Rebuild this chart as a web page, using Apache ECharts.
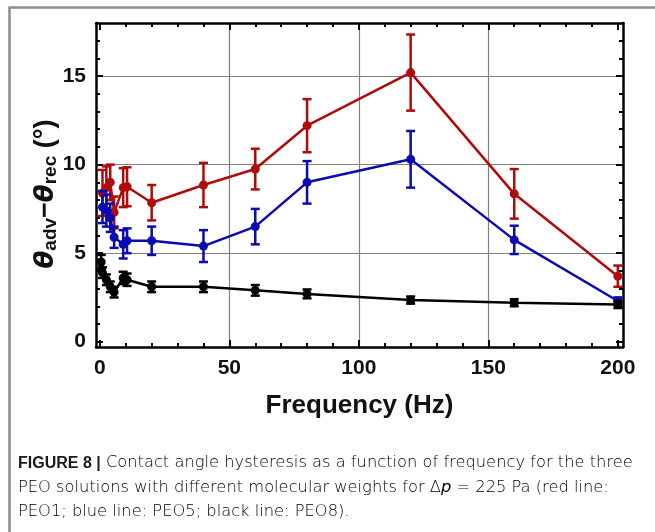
<!DOCTYPE html>
<html>
<head>
<meta charset="utf-8">
<script src="https://cdn.jsdelivr.net/npm/echarts@6/dist/echarts.min.js"></script>
<style>
html,body{margin:0;padding:0;background:#fff;}
#chart{width:655px;height:532px;}
</style>
</head>
<body>
<div id="chart"></div>
<script>
// ---- data ----
const freqLow = [1, 2.5, 4, 5.5, 9, 10.5, 20, 40, 60, 80, 120, 160, 200];
const freqBlack = [0.5, 1, 2.5, 4, 5.5, 9, 10.5, 20, 40, 60, 80, 120, 160, 200];

const peo1Values = [8.4, 8.7, 9.0, 7.3, 8.7, 8.75, 7.85, 8.85, 9.75, 12.2, 15.2, 8.35, 3.7];
const peo1Errors = [1.3, 1.2, 1.0, 0.9, 1.1, 1.1, 1.0, 1.25, 1.15, 1.5, 2.15, 1.4, 0.6];

const peo5Values = [7.6, 7.4, 7.0, 5.9, 5.5, 5.7, 5.7, 5.4, 6.5, 9.0, 10.3, 5.75, 2.3];
const peo5Errors = [0.9, 0.9, 0.8, 0.6, 0.8, 0.7, 0.8, 0.9, 1.0, 1.2, 1.6, 0.8, 0.2];

const peo8Values = [4.5, 3.9, 3.5, 3.1, 2.8, 3.6, 3.5, 3.1, 3.1, 2.9, 2.7, 2.35, 2.2, 2.1];
const peo8Errors = [0.4, 0.3, 0.3, 0.3, 0.3, 0.35, 0.35, 0.3, 0.3, 0.3, 0.25, 0.2, 0.2, 0.2];

const xMajorTicks = [0, 50, 100, 150, 200];
const xMinorTicks = [10, 20, 30, 40, 60, 70, 80, 90, 110, 120, 130, 140, 160, 170, 180, 190];
const xGrid = [50, 100, 150];
const yMajorTicks = [0, 5, 10, 15];
const yMinorTicks = [1, 2, 3, 4, 6, 7, 8, 9, 11, 12, 13, 14, 16, 17];
const yGrid = [5, 10, 15];

const RED = '#b00a0a', BLUE = '#0a0ab0', BLACK = '#000000';
const XMIN = -1.5, XMAX = 202, YMIN = -0.3, YMAX = 18;
const FONT = "'Liberation Sans',Arial,sans-serif";

function pairs(xs, ys) { return xs.map((x, i) => [x, ys[i]]); }
function errs(xs, ys, es) { return xs.map((x, i) => [x, ys[i] - es[i], ys[i] + es[i]]); }

function errRender(color) {
  return function (params, api) {
    const x = api.value(0), lo = api.value(1), hi = api.value(2);
    const p1 = api.coord([x, hi]), p2 = api.coord([x, lo]);
    const h = 4.5;
    const st = { stroke: color, lineWidth: 2.5 };
    return {
      type: 'group',
      children: [
        { type: 'line', shape: { x1: p1[0], y1: p1[1], x2: p2[0], y2: p2[1] }, style: st },
        { type: 'line', shape: { x1: p1[0] - h, y1: p1[1], x2: p1[0] + h, y2: p1[1] }, style: st },
        { type: 'line', shape: { x1: p2[0] - h, y1: p2[1], x2: p2[0] + h, y2: p2[1] }, style: st }
      ]
    };
  };
}

const frameLine = { show: true, onZero: false, lineStyle: { color: '#000', width: 2.5 } };
const noLine = { show: false, onZero: false };
function xAx(position, opts) {
  return Object.assign({
    type: 'value', min: XMIN, max: XMAX, position: position,
    axisLine: noLine, axisTick: { show: false }, axisLabel: { show: false },
    splitLine: { show: false }
  }, opts);
}
function yAx(position, opts) {
  return Object.assign({
    type: 'value', min: YMIN, max: YMAX, position: position,
    axisLine: noLine, axisTick: { show: false }, axisLabel: { show: false },
    splitLine: { show: false }
  }, opts);
}
const majT = (vals) => ({ show: true, inside: true, length: 7, customValues: vals, lineStyle: { color: '#000', width: 2 } });
const minT = (vals) => ({ show: true, inside: true, length: 4, customValues: vals, lineStyle: { color: '#000', width: 2 } });

const chart = echarts.init(document.getElementById('chart'));
const option = {
  backgroundColor: '#fff',
  animation: false,
  grid: { left: 96, top: 23, right: 32, bottom: 185, containLabel: false },
  xAxis: [
    xAx('bottom', {
      axisLine: frameLine,
      axisTick: majT(xMajorTicks),
      axisLabel: { show: true, customValues: xMajorTicks, margin: 11, fontSize: 21, fontWeight: 'bold', color: '#111', fontFamily: FONT },
      name: 'Frequency (Hz)', nameLocation: 'middle', nameGap: 46,
      nameTextStyle: { fontSize: 26, fontWeight: 'bold', color: '#111', fontFamily: FONT }
    }),
    xAx('bottom', { axisTick: minT(xMinorTicks) }),
    xAx('top', { axisLine: frameLine, axisTick: majT(xMajorTicks) }),
    xAx('top', { axisTick: minT(xMinorTicks) }),
    xAx('bottom', {
      axisTick: { show: false, customValues: xGrid },
      splitLine: { show: true, lineStyle: { color: '#808080', width: 1.2 } }
    })
  ],
  yAxis: [
    yAx('left', {
      axisLine: frameLine,
      axisTick: majT(yMajorTicks),
      axisLabel: { show: true, customValues: yMajorTicks, margin: 10, fontSize: 21, fontWeight: 'bold', color: '#111', fontFamily: FONT }
    }),
    yAx('left', { axisTick: minT(yMinorTicks) }),
    yAx('right', { axisLine: frameLine, axisTick: majT(yMajorTicks) }),
    yAx('right', { axisTick: minT(yMinorTicks) }),
    yAx('left', {
      axisTick: { show: false, customValues: yGrid },
      splitLine: { show: true, lineStyle: { color: '#808080', width: 1.2 } }
    })
  ],
  series: [
    { type: 'custom', name: 'PEO1 err', renderItem: errRender(RED), data: errs(freqLow, peo1Values, peo1Errors), z: 3, encode: { x: 0, y: [1, 2] } },
    { type: 'line', name: 'PEO1', data: pairs(freqLow, peo1Values), symbol: 'circle', symbolSize: 9, itemStyle: { color: RED }, lineStyle: { color: RED, width: 2.5 }, z: 3 },
    { type: 'custom', name: 'PEO5 err', renderItem: errRender(BLUE), data: errs(freqLow, peo5Values, peo5Errors), z: 4, encode: { x: 0, y: [1, 2] } },
    { type: 'line', name: 'PEO5', data: pairs(freqLow, peo5Values), symbol: 'circle', symbolSize: 9, itemStyle: { color: BLUE }, lineStyle: { color: BLUE, width: 2.5 }, z: 4 },
    { type: 'custom', name: 'PEO8 err', renderItem: errRender(BLACK), data: errs(freqBlack, peo8Values, peo8Errors), z: 5, encode: { x: 0, y: [1, 2] } },
    { type: 'line', name: 'PEO8', data: pairs(freqBlack, peo8Values), symbol: 'circle', symbolSize: 9, itemStyle: { color: BLACK }, lineStyle: { color: BLACK, width: 2.5 }, z: 5 }
  ],
  graphic: [
    { type: 'rect', left: 7, top: 5, shape: { width: 700, height: 600 }, style: { fill: 'none', stroke: '#8c8c8c', lineWidth: 2.5 }, silent: true, z: -10 },
    {
      type: 'text', x: 46, y: 194, rotation: Math.PI / 2, silent: true,
      style: {
        text: '{t|θ}{s|adv}{m|−}{t|θ}{s|rec}{m| (°)}',
        align: 'center', verticalAlign: 'middle',
        rich: {
          t: { fontSize: 26, fontWeight: 'bold', fontStyle: 'italic', fontFamily: "'DejaVu Sans',sans-serif", fill: '#111', lineHeight: 28, verticalAlign: 'middle' },
          s: { fontSize: 19, fontWeight: 'bold', fontFamily: FONT, fill: '#111', lineHeight: 20, padding: [24, 0, 0, 0], verticalAlign: 'bottom' },
          m: { fontSize: 27, fontWeight: 'bold', fontFamily: FONT, fill: '#111', lineHeight: 28, verticalAlign: 'middle' }
        }
      }
    },
    {
      type: 'text', left: 18, top: 451, silent: true,
      style: {
        text: '{b|FIGURE 8 |} Contact angle hysteresis as a function of frequency for the three\nPEO solutions with different molecular weights for Δ{i|p} = 225 Pa (red line:\nPEO1; blue line: PEO5; black line: PEO8).',
        font: "200 16.3px 'DejaVu Sans',Arial,sans-serif",
        fill: '#000', lineHeight: 24.5,
        rich: {
          b: { fontWeight: 'bold', fontSize: 16, fontFamily: "'Liberation Sans',Arial,sans-serif", fill: '#1a1a1a', lineHeight: 24.5 },
          i: { fontStyle: 'italic', fontWeight: 200, fontSize: 16.3, fontFamily: "'DejaVu Sans',Arial,sans-serif", fill: '#000', lineHeight: 24.5 }
        }
      }
    }
  ]
};
chart.setOption(option);
</script>
</body>
</html>
